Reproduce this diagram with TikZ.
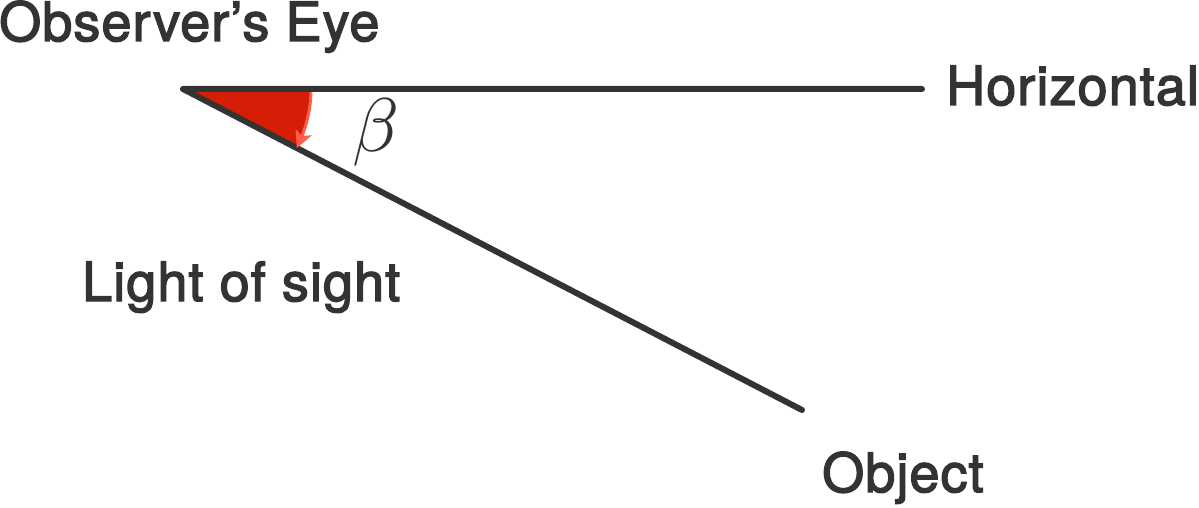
\documentclass[tikz,border=0pt]{standalone}
\usepackage{fontspec}
\setmainfont{TeX Gyre Heros}
\newfontfamily\lblfont{TeX Gyre Heros}[FakeBold=2.5, LetterSpace=2]
\usepackage{tikz}
\usetikzlibrary{arrows.meta,bending}
\definecolor{ink}{HTML}{333333}
\definecolor{wedge}{HTML}{D41F06}
\definecolor{sweep}{HTML}{FF5C4A}

\begin{document}
\begin{tikzpicture}[x=1pt,y=1pt,
    ray/.style={ink, line width=6pt, line cap=round, line join=round},
    lbl/.style={ink, inner sep=0pt, anchor=base west, font=\lblfont\fontsize{54}{60}\selectfont}]
      \useasboundingbox (0,0) rectangle (1199,507);
      \coordinate (e1) at (183,418);
      \coordinate (h1) at (922,418);
      \coordinate (o1) at (802,97);
      \node [lbl] (eye) at (-1,466) {Observer’s Eye};
      \node [lbl] (hor) at (946,402) {Horizontal};
      \node [lbl] (los) at (82,206) {Light of sight};
      \node [lbl] (obj) at (822,15) {Object};
      \node [ink, inner sep=0pt, scale=7.6] (beta) at (376,375) {$\beta$};
      \fill [wedge] (e1) -- ([shift={(0:128)}]e1) arc [start angle=0, end angle=-27.4, radius=128] -- cycle;
      \draw [ray] (o1) -- (e1) -- (h1);
      \draw [sweep, line width=3pt, -{Stealth[length=17pt, width=17pt, inset=4pt, bend]}]
        ([shift={(-1.5:128)}]e1) arc [start angle=-1.5, end angle=-27.4, radius=128];
\end{tikzpicture}
\end{document}
